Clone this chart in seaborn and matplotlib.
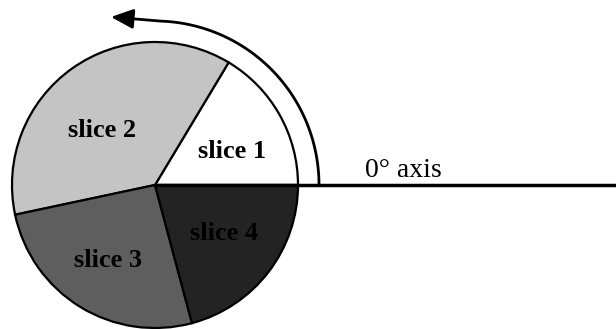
import numpy as np
import matplotlib
matplotlib.use("Agg")
import matplotlib.pyplot as plt
from matplotlib.patches import FancyArrowPatch
from matplotlib.path import Path
import seaborn as sns

# ---- data ----
categories = ["slice 1", "slice 2", "slice 3", "slice 4"]
slice_degrees = [59, 133, 93, 75]
slice_colors = ["#ffffff", "#c4c4c4", "#5e5e5e", "#232323"]
axis_label = "0\u00b0 axis"

# ---- layout ----
W, H = 616, 329
CX, CY, R = 155, 144, 143
label_pos = [(198, 171), (68, 192), (74, 62), (190, 89)]

sns.set_theme(style="white")
plt.rcParams["font.family"] = ["Liberation Serif", "DejaVu Serif"]

fig = plt.figure(figsize=(W / 100, H / 100), dpi=100)
ax = fig.add_axes([0, 0, 1, 1])

ax.pie(slice_degrees, colors=slice_colors, startangle=0, counterclock=True,
       center=(CX, CY), radius=R, frame=True,
       wedgeprops=dict(edgecolor="black", linewidth=1.6))

for name, (x, y) in zip(categories, label_pos):
    ax.text(x, y, name, fontsize=19, fontweight="bold", color="black",
            ha="left", va="baseline")

# 0 degree axis line
ax.plot([CX, W], [CY, CY], color="black", lw=2.5, solid_capstyle="butt", zorder=5)
ax.text(365, 152, axis_label, fontsize=20, color="black", ha="left", va="baseline")

# rotation arrow
ra = 164
th = np.deg2rad(np.linspace(0, 88, 60))
pts = np.column_stack([CX + ra * np.cos(th), CY + ra * np.sin(th)])
pts = np.vstack([pts, [111, 312]])
codes = [Path.MOVETO] + [Path.LINETO] * (len(pts) - 1)
arrow = FancyArrowPatch(path=Path(pts, codes), arrowstyle="-|>,head_length=9,head_width=4",
                        color="black", lw=2, mutation_scale=1.5)
ax.add_patch(arrow)

ax.set_xlim(0, W)
ax.set_ylim(0, H)
ax.set_aspect("equal")
ax.axis("off")

fig.savefig("out.png", dpi=100)
